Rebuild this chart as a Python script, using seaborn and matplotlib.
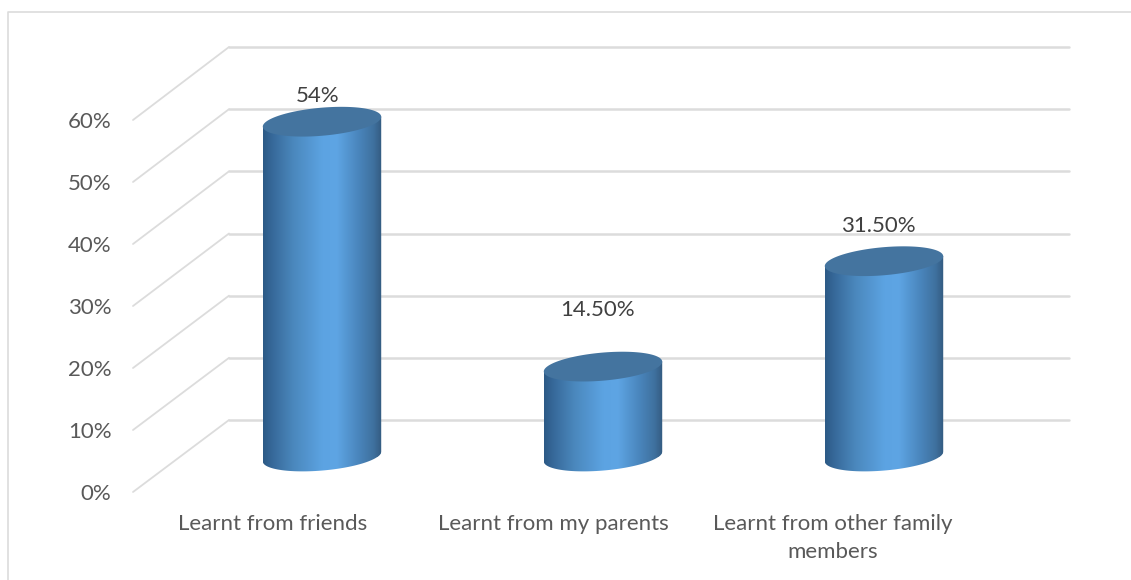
import numpy as np
import pandas as pd
import seaborn as sns
import matplotlib
matplotlib.use("Agg")
import matplotlib.pyplot as plt
from matplotlib.colors import LinearSegmentedColormap
from matplotlib.lines import Line2D
from matplotlib.patches import ConnectionPatch, Polygon
from matplotlib.path import Path

# ---- data ----
categories = ["Learnt from friends", "Learnt from my parents", "Learnt from other family\nmembers"]
values = [54, 14.5, 31.5]
value_labels = ["54%", "14.50%", "31.50%"]
y_ticks = [0, 10, 20, 30, 40, 50, 60]
y_tick_labels = ["0%", "10%", "20%", "30%", "40%", "50%", "60%"]

# ---- style ----
W, H = 1131, 580
TEXT = "#595959"
LABEL = "#404040"
GRID = "#dcdcdc"
TOP = "#44749f"
label_shift_px = [(-4, 26), (-5, 57), (-6, 35)]
stops = [(0, "#2c5a86"), (.08, "#37699a"), (.25, "#4a87bc"), (.5, "#5ca3e2"),
         (.62, "#5ea5e4"), (.8, "#4a86bd"), (.93, "#3f719f"), (1, "#345b80")]
cmap = LinearSegmentedColormap.from_list("cyl", stops)

sns.set_theme(style="white")
plt.rcParams["font.family"] = ["Lato", "DejaVu Sans"]
plt.rcParams["axes.facecolor"] = "none"

fig = plt.figure(figsize=(W / 100, H / 100), dpi=100, facecolor="white")


def rect(left, right, bottom, top):
    """Axes rectangle from pixel edges (pixel y counted from the top)."""
    return [left / W, 1 - bottom / H, (right - left) / W, (bottom - top) / H]


def clean(ax):
    for s in ax.spines.values():
        s.set_visible(False)
    ax.set_ylim(0, 60)
    ax.set_xlim(-0.5, 2.5)
    ax.patch.set_visible(False)


# outer frame
fig.add_artist(Line2D([7.5 / W, 7.5 / W, 1], [0, 1 - 11.5 / H, 1 - 11.5 / H],
                      transform=fig.transFigure, color=GRID, lw=1.2, zorder=0))

# back wall
wall = fig.add_axes(rect(229, 1069, 420, 47), zorder=0)
clean(wall)
wall.set_xticks([])
wall.set_yticks(y_ticks)
wall.set_yticklabels([])
wall.tick_params(length=0)
wall.grid(axis="y", color=GRID, lw=1.8)
for g in wall.get_ygridlines():
    g.set_clip_on(False)

# front plane: tick labels
front = fig.add_axes(rect(133, 973, 492, 120), zorder=1)
clean(front)
front.set_xticks(range(len(categories)))
front.set_xticklabels(categories, fontsize=16, color=TEXT, linespacing=1.55)
front.set_yticks(y_ticks)
front.set_yticklabels(y_tick_labels, fontsize=16, color=TEXT)
front.tick_params(axis="y", length=0, pad=15.5)
front.tick_params(axis="x", length=0, pad=15.5)

# side wall diagonals
for v in y_ticks:
    fig.add_artist(ConnectionPatch(xyA=(0, v), coordsA=front.get_yaxis_transform(),
                                   xyB=(0, v), coordsB=wall.get_yaxis_transform(),
                                   color=GRID, lw=1.3, zorder=0.5))

# cylinders, in a plane half way between front and wall
ax = fig.add_axes(rect(181.5, 1024.5, 456.5, 84.5), zorder=2)
df = pd.DataFrame({"category": categories, "value": values})
sns.barplot(data=df, x="category", y="value", width=0.423, color="#4a87bc",
            linewidth=0, ax=ax)
clean(ax)
ax.set_xlabel("")
ax.set_ylabel("")
ax.set_xticks([])
ax.set_yticks([])

sx = 843 / 3      # pixels per category
sy = 372 / 60     # pixels per percent
tilt = np.deg2rad(5)
b_px = 14


def ellipse(cx, cy, a_px, t):
    ex = a_px * np.cos(t) * np.cos(tilt) - b_px * np.sin(t) * np.sin(tilt)
    ey = a_px * np.cos(t) * np.sin(tilt) + b_px * np.sin(t) * np.cos(tilt)
    return np.column_stack([cx + ex / sx, cy + ey / sy])


grad = np.linspace(0, 1, 256)[None, :]
for bar, shift, text in zip(ax.patches, label_shift_px, value_labels):
    x0, w, v = bar.get_x(), bar.get_width(), bar.get_height()
    cx = x0 + w / 2
    a_px = w * sx / 2
    lower = ellipse(cx, 0, a_px, np.linspace(np.pi, 2 * np.pi, 60))
    top_pts = ellipse(cx, v, a_px, np.array([0.0, np.pi]))
    body = np.vstack([lower, top_pts])
    path = Path(np.vstack([body, body[0]]), closed=True)
    bar.set_clip_path(path, ax.transData)
    im = ax.imshow(grad, extent=(x0, x0 + w, -5, v + 5), aspect="auto", cmap=cmap,
                   zorder=3, interpolation="bilinear")
    im.set_clip_path(path, ax.transData)
    im.set_clip_box(fig.bbox)
    ax.add_patch(Polygon(ellipse(cx, v, a_px, np.linspace(0, 2 * np.pi, 120)),
                         closed=True, facecolor=TOP, edgecolor="none", zorder=4))
    ax.annotate(text, xy=(cx, v), xytext=(shift[0] * 0.72, shift[1] * 0.72),
                textcoords="offset points", ha="center", va="center",
                fontsize=16, color=LABEL, zorder=5, annotation_clip=False)
clean(ax)

fig.savefig("out.png", dpi=100, facecolor="white")
